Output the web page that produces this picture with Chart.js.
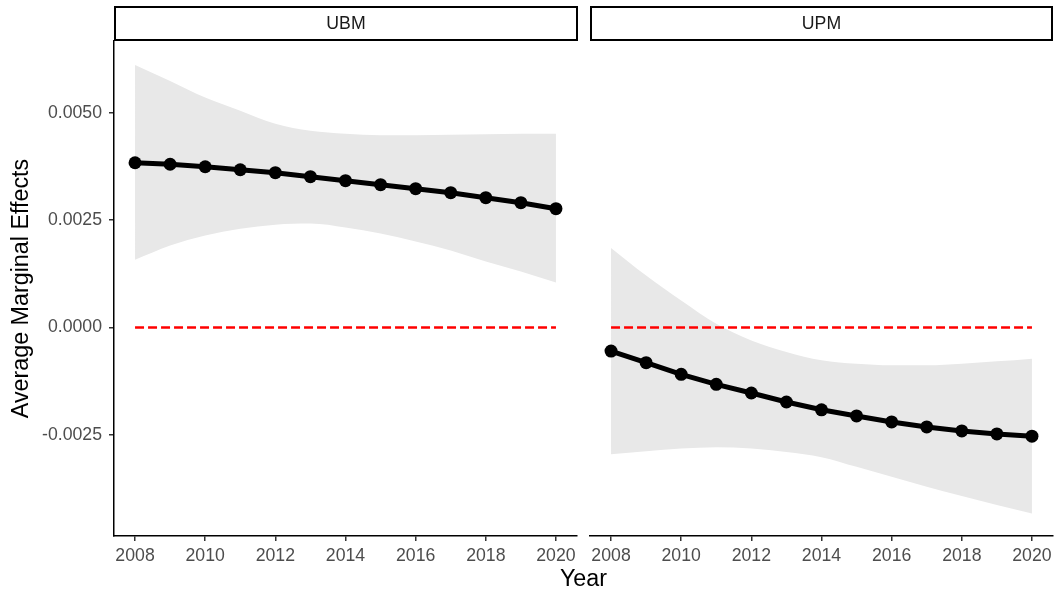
<!DOCTYPE html>
<html>
<head>
<meta charset="utf-8">
<script src="https://cdn.jsdelivr.net/npm/chart.js@4.4.0/dist/chart.umd.min.js"></script>
<style>
  body { margin: 0; background: #fff; overflow: hidden; }
  #wrap { position: relative; width: 1057px; height: 591px; overflow: hidden; font-family: "Liberation Sans", Arial, sans-serif; }
  canvas { position: absolute; top: 0; }
  .strip { position: absolute; top: 6px; height: 35px; box-sizing: border-box; border: 2px solid #000;
           display: flex; align-items: center; justify-content: center; font-size: 17.7px; color: #1a1a1a; }
  #xtitle { position: absolute; left: 114px; width: 939px; top: 567px; text-align: center; font-size: 23.3px; line-height: 23.3px; color: #000; }
</style>
</head>
<body>
<div id="wrap">
  <canvas id="left" width="595" height="591" style="left:0"></canvas>
  <canvas id="right" width="495" height="591" style="left:575px"></canvas>
  <div class="strip" style="left:114px;width:464px">UBM</div>
  <div class="strip" style="left:590px;width:463px">UPM</div>
  <div id="xtitle">Year</div>
</div>
<script>
var years = [2008, 2009, 2010, 2011, 2012, 2013, 2014, 2015, 2016, 2017, 2018, 2019, 2020];
var xTicks = [2008, 2010, 2012, 2014, 2016, 2018, 2020];
var yTicks = [-0.0025, 0, 0.0025, 0.005];
var panels = ['UBM', 'UPM'];

var ubmMean = [0.003837, 0.003802, 0.003744, 0.003674, 0.003605, 0.003512, 0.003419, 0.003326, 0.003233, 0.00314, 0.003023, 0.002907, 0.002767];
var ubmUpper = [0.006116, 0.005744, 0.005356, 0.005047, 0.004744, 0.004581, 0.004512, 0.004477, 0.004477, 0.004488, 0.0045, 0.004512, 0.004512];
var ubmLower = [0.001574, 0.001907, 0.00214, 0.002302, 0.002395, 0.002419, 0.002326, 0.002186, 0.002, 0.001791, 0.001535, 0.001302, 0.001047];

var upmMean = [-0.000551, -0.000821, -0.001093, -0.001326, -0.001528, -0.001737, -0.001919, -0.002063, -0.002202, -0.002319, -0.002412, -0.002481, -0.002535];
var upmUpper = [0.001853, 0.001209, 0.000628, 0.000086, -0.000302, -0.000574, -0.000767, -0.000849, -0.000884, -0.000884, -0.000844, -0.000791, -0.000728];
var upmLower = [-0.002953, -0.002884, -0.002821, -0.002791, -0.002821, -0.0029, -0.003023, -0.003249, -0.003481, -0.003714, -0.00393, -0.00414, -0.004333];

var refLine = 0;

Chart.defaults.font.family = '"Liberation Sans", Arial, sans-serif';

function pts(vals) {
  return years.map(function (y, i) { return { x: y, y: vals[i] }; });
}

// each facet is its own chart; the right one hides its y axis but keeps the same range
function makePanel(id, mean, lower, upper, first) {
  var refPts = [{ x: years[0], y: refLine }, { x: years[years.length - 1], y: refLine }];
  return new Chart(document.getElementById(id), {
    type: 'line',
    data: {
      datasets: [{
        data: pts(upper), fill: '+1', backgroundColor: '#e8e8e8', borderWidth: 0,
        pointRadius: 0, cubicInterpolationMode: 'monotone', order: 3
      }, {
        data: pts(lower), fill: false, borderWidth: 0,
        pointRadius: 0, cubicInterpolationMode: 'monotone', order: 3
      }, {
        data: refPts, borderColor: '#ff0000', borderWidth: 2.5, borderDash: [9, 4],
        pointRadius: 0, fill: false, order: 2
      }, {
        data: pts(mean), borderColor: '#000', borderWidth: 5, pointRadius: 6.5,
        pointBackgroundColor: '#000', pointBorderWidth: 0, fill: false, order: 1
      }]
    },
    options: {
      responsive: false,
      animation: false,
      layout: { padding: first ? { top: 41, right: 18, left: 0, bottom: 0 } : { top: 41, right: 17, left: 15, bottom: 0 } },
      plugins: { legend: { display: false }, tooltip: { enabled: false } },
      scales: {
        x: {
          type: 'linear', min: 2007.4, max: 2020.6,
          afterBuildTicks: function (scale) { scale.ticks = xTicks.map(function (v) { return { value: v }; }); },
          afterFit: function (scale) { scale.height = 55; },
          grid: { display: true, drawOnChartArea: false, drawTicks: true, tickLength: 5, color: '#333', lineWidth: 1.5 },
          border: { display: true, color: '#000', width: 1.5 },
          ticks: {
            color: '#4d4d4d', font: { size: 17.7 }, padding: 4.5, maxRotation: 0, autoSkip: false,
            callback: function (v) { return String(v); }
          }
        },
        y: {
          type: 'linear', min: -0.00486, max: 0.006674, display: first,
          afterBuildTicks: function (scale) { scale.ticks = yTicks.map(function (v) { return { value: v }; }); },
          afterFit: function (scale) { if (first) scale.width = 114; },
          grid: { display: true, drawOnChartArea: false, drawTicks: true, tickLength: 5, color: '#333', lineWidth: 1.5 },
          border: { display: true, color: '#000', width: 1.5 },
          ticks: {
            color: '#4d4d4d', font: { size: 17.7 }, padding: 7,
            callback: function (v) { return v.toFixed(4); }
          },
          title: { display: true, text: 'Average Marginal Effects', color: '#000', font: { size: 23.3 }, padding: { top: 8, bottom: 0 } }
        }
      }
    }
  });
}

makePanel('left', ubmMean, ubmLower, ubmUpper, true);
makePanel('right', upmMean, upmLower, upmUpper, false);
</script>
</body>
</html>
